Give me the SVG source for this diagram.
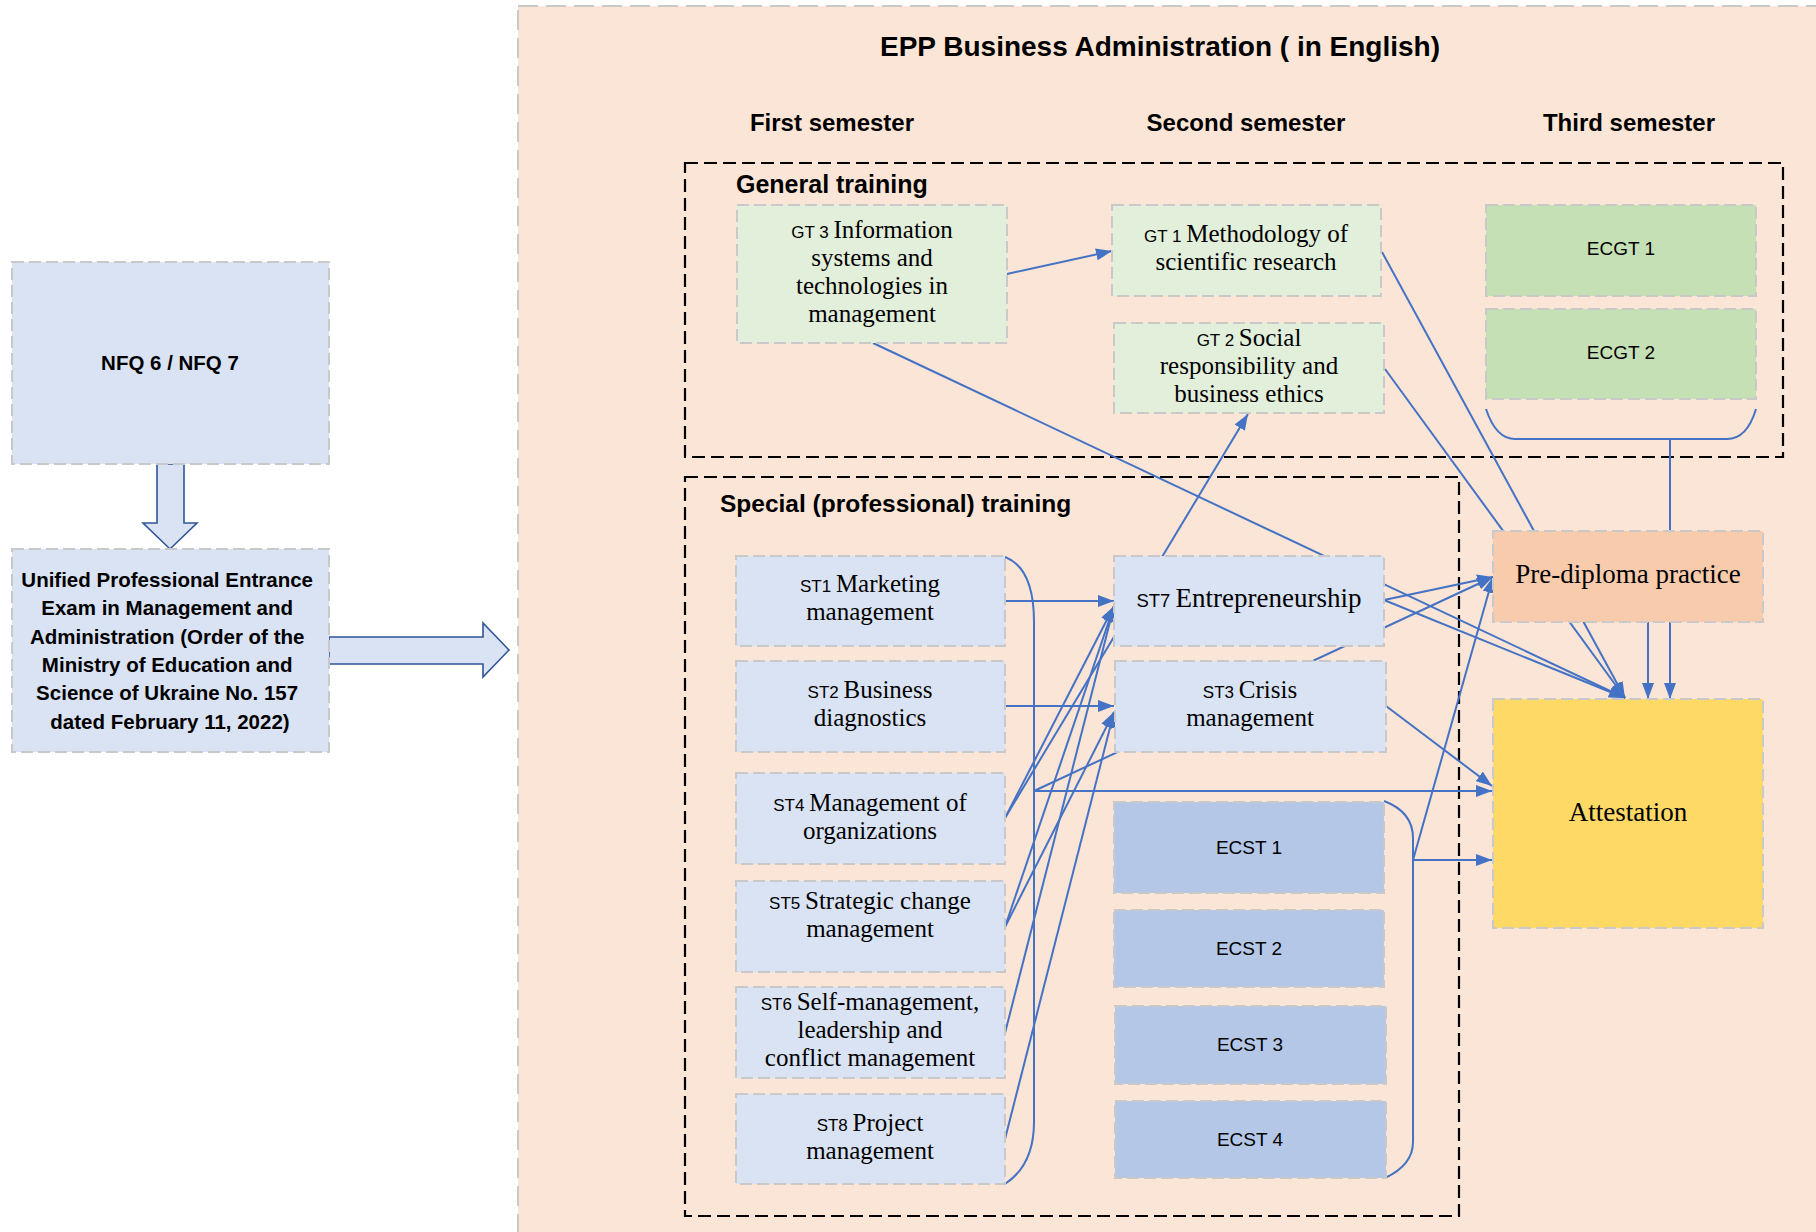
<svg xmlns="http://www.w3.org/2000/svg" width="1816" height="1232" viewBox="0 0 1816 1232">
<style>
.n{stroke:#C9C9C9;stroke-width:2;stroke-dasharray:12 5}
.lb{fill:#DAE3F3}.gr{fill:#E2EFDA}.dg{fill:#C5E0B4}.db{fill:#B4C7E7}.or{fill:#F8CBAD}.go{fill:#FFD966}
.t{font-family:"Liberation Serif",serif;font-size:25px;text-anchor:middle;fill:#000}
.t1{font-family:"Liberation Serif",serif;font-size:27px;text-anchor:middle;fill:#000}
.p{font-family:"Liberation Sans",sans-serif;font-size:17px}
.p1{font-family:"Liberation Sans",sans-serif;font-size:18.5px}
.s{font-family:"Liberation Sans",sans-serif;font-size:19px;text-anchor:middle;fill:#000}
.b{font-family:"Liberation Sans",sans-serif;font-weight:bold;fill:#000}
.grp{fill:none;stroke:#000;stroke-width:2.2;stroke-dasharray:13 6}
.c{fill:none;stroke:#4472C4;stroke-width:2}
.a{marker-end:url(#ah)}
.big{fill:#DAE3F3;stroke:#2F5597;stroke-width:1.6}
</style>
<defs>
<marker id="ah" viewBox="0 0 16 12" refX="16" refY="6" markerWidth="16" markerHeight="12" markerUnits="userSpaceOnUse" orient="auto">
<path d="M0,0 L16,6 L0,12 z" fill="#4472C4"/>
</marker>
</defs>
<rect width="1816" height="1232" fill="#FFFFFF"/>
<g id="program">
<rect x="518" y="6" width="1400" height="1300" fill="#FBE5D6" stroke="#C8C8C8" stroke-width="2" stroke-dasharray="20 8"/>
<text class="b" x="1160" y="56" font-size="28" text-anchor="middle">EPP Business Administration ( in English)</text>
<text class="b" x="832" y="131" font-size="24" text-anchor="middle">First semester</text>
<text class="b" x="1246" y="131" font-size="24" text-anchor="middle">Second semester</text>
<text class="b" x="1629" y="131" font-size="24" text-anchor="middle">Third semester</text>
</g>
<g id="general-training">
<rect class="grp" x="685" y="163" width="1098" height="294"/>
<text class="b" x="736" y="193" font-size="25">General training</text>
</g>
<g id="special-training">
<rect class="grp" x="685" y="477" width="774" height="739"/>
<text class="b" x="720" y="512" font-size="24.5">Special (professional) training</text>
</g>
<g id="left-arrows">
<polygon class="big" points="157,464 184,464 184,523 197,523 170,549 143,523 157,523"/>
<polygon class="big" points="329,637 483,637 483,623 509,650 483,677 483,664 329,664"/>
</g>
<g id="connectors">
<path class="c a" d="M1007,274 L1112,251"/>
<path class="c a" d="M873,343 L1625,698"/>
<path class="c a" d="M1382,252 L1625,698"/>
<path class="c a" d="M1385,369 L1625,698"/>
<path class="c a" d="M1384,600 L1625,698"/>
<path class="c a" d="M1384,600 L1493,577"/>
<path class="c a" d="M1034,791 L1493,577"/>
<path class="c a" d="M1034,791 L1492,791"/>
<path class="c a" d="M1386,706 L1492,786"/>
<path class="c a" d="M1413,860 L1493,577"/>
<path class="c a" d="M1413,860 L1492,860"/>
<path class="c a" d="M1670,439 L1670,699"/>
<path class="c a" d="M1648,622 L1648,699"/>
<path class="c a" d="M1005,601 L1114,601"/>
<path class="c a" d="M1005,706 L1114,706"/>
<path class="c a" d="M1005,818 L1114,606"/>
<path class="c a" d="M1005,818 L1248,414"/>
<path class="c a" d="M1005,927 L1114,606"/>
<path class="c a" d="M1005,927 L1114,712"/>
<path class="c a" d="M1005,1033 L1114,606"/>
<path class="c a" d="M1005,1139 L1114,712"/>
<path class="c" d="M1005,557 Q1034,568 1034,622 L1034,1122 Q1034,1165 1005,1184"/>
<path class="c" d="M1384,801 Q1413,812 1413,838 L1413,1142 Q1413,1165 1385,1178"/>
<path class="c" d="M1486,409 Q1496,439 1515,439 L1727,439 Q1747,439 1756,409"/>
</g>
<g id="nfq">
<rect class="n lb" x="12" y="262" width="317" height="202"/>
<text class="b" x="170" y="370" font-size="20.5" text-anchor="middle">NFQ 6 / NFQ 7</text>
</g>
<g id="entrance-exam">
<rect class="n lb" x="12" y="549" width="317" height="203"/>
<text class="b" font-size="20.5" text-anchor="middle">
<tspan x="170" y="587">Unified Professional Entrance</tspan>
<tspan x="170" y="615">Exam in Management and</tspan>
<tspan x="170" y="644">Administration (Order of the</tspan>
<tspan x="170" y="672">Ministry of Education and</tspan>
<tspan x="170" y="700">Science of Ukraine No. 157</tspan>
<tspan x="170" y="729">dated February 11, 2022)</tspan>
</text>
</g>
<g id="gt3">
<rect class="n gr" x="737" y="205" width="270" height="138"/>
<text class="t"><tspan x="872" y="238"><tspan class="p">GT 3 </tspan>Information</tspan><tspan x="872" y="266">systems and</tspan><tspan x="872" y="294">technologies in</tspan><tspan x="872" y="322">management</tspan></text>
</g>
<g id="gt1">
<rect class="n gr" x="1112" y="205" width="269" height="91"/>
<text class="t"><tspan x="1246" y="241.5"><tspan class="p">GT 1 </tspan>Methodology of</tspan><tspan x="1246" y="269.5">scientific research</tspan></text>
</g>
<g id="gt2">
<rect class="n gr" x="1114" y="323" width="270" height="90"/>
<text class="t"><tspan x="1249" y="346"><tspan class="p">GT 2 </tspan>Social</tspan><tspan x="1249" y="374">responsibility and</tspan><tspan x="1249" y="402">business ethics</tspan></text>
</g>
<g id="ecgt1">
<rect class="n dg" x="1486" y="205" width="270" height="91"/>
<text class="s" x="1621" y="255">ECGT 1</text>
</g>
<g id="ecgt2">
<rect class="n dg" x="1486" y="309" width="270" height="90"/>
<text class="s" x="1621" y="359">ECGT 2</text>
</g>
<g id="st1">
<rect class="n lb" x="736" y="556" width="269" height="90"/>
<text class="t"><tspan x="870" y="592"><tspan class="p">ST1 </tspan>Marketing</tspan><tspan x="870" y="620">management</tspan></text>
</g>
<g id="st2">
<rect class="n lb" x="736" y="661" width="269" height="91"/>
<text class="t"><tspan x="870" y="698"><tspan class="p">ST2 </tspan>Business</tspan><tspan x="870" y="726">diagnostics</tspan></text>
</g>
<g id="st4">
<rect class="n lb" x="736" y="773" width="269" height="91"/>
<text class="t"><tspan x="870" y="810.5"><tspan class="p">ST4 </tspan>Management of</tspan><tspan x="870" y="838.5">organizations</tspan></text>
</g>
<g id="st5">
<rect class="n lb" x="736" y="881" width="269" height="91"/>
<text class="t"><tspan x="870" y="908.5"><tspan class="p">ST5 </tspan>Strategic change</tspan><tspan x="870" y="936.5">management</tspan></text>
</g>
<g id="st6">
<rect class="n lb" x="736" y="987" width="269" height="91"/>
<text class="t"><tspan x="870" y="1010"><tspan class="p">ST6 </tspan>Self-management,</tspan><tspan x="870" y="1038">leadership and</tspan><tspan x="870" y="1066">conflict management</tspan></text>
</g>
<g id="st8">
<rect class="n lb" x="736" y="1094" width="269" height="90"/>
<text class="t"><tspan x="870" y="1131"><tspan class="p">ST8 </tspan>Project</tspan><tspan x="870" y="1159">management</tspan></text>
</g>
<g id="st7">
<rect class="n lb" x="1114" y="556" width="270" height="90"/>
<text class="t1" x="1249" y="607"><tspan class="p1">ST7 </tspan>Entrepreneurship</text>
</g>
<g id="st3">
<rect class="n lb" x="1115" y="661" width="271" height="91"/>
<text class="t"><tspan x="1250" y="698"><tspan class="p">ST3 </tspan>Crisis</tspan><tspan x="1250" y="726">management</tspan></text>
</g>
<g id="ecst1">
<rect class="n db" x="1114" y="802" width="270" height="91"/>
<text class="s" x="1249" y="854">ECST 1</text>
</g>
<g id="ecst2">
<rect class="n db" x="1114" y="910" width="270" height="77"/>
<text class="s" x="1249" y="955">ECST 2</text>
</g>
<g id="ecst3">
<rect class="n db" x="1115" y="1006" width="271" height="78"/>
<text class="s" x="1250" y="1051">ECST 3</text>
</g>
<g id="ecst4">
<rect class="n db" x="1115" y="1101" width="271" height="77"/>
<text class="s" x="1250" y="1146">ECST 4</text>
</g>
<g id="pre-diploma">
<rect class="n or" x="1493" y="531" width="270" height="91"/>
<text class="t1" x="1628" y="583">Pre-diploma practice</text>
</g>
<g id="attestation">
<rect class="n go" x="1493" y="699" width="270" height="229"/>
<text class="t1" x="1628" y="821">Attestation</text>
</g>
</svg>
